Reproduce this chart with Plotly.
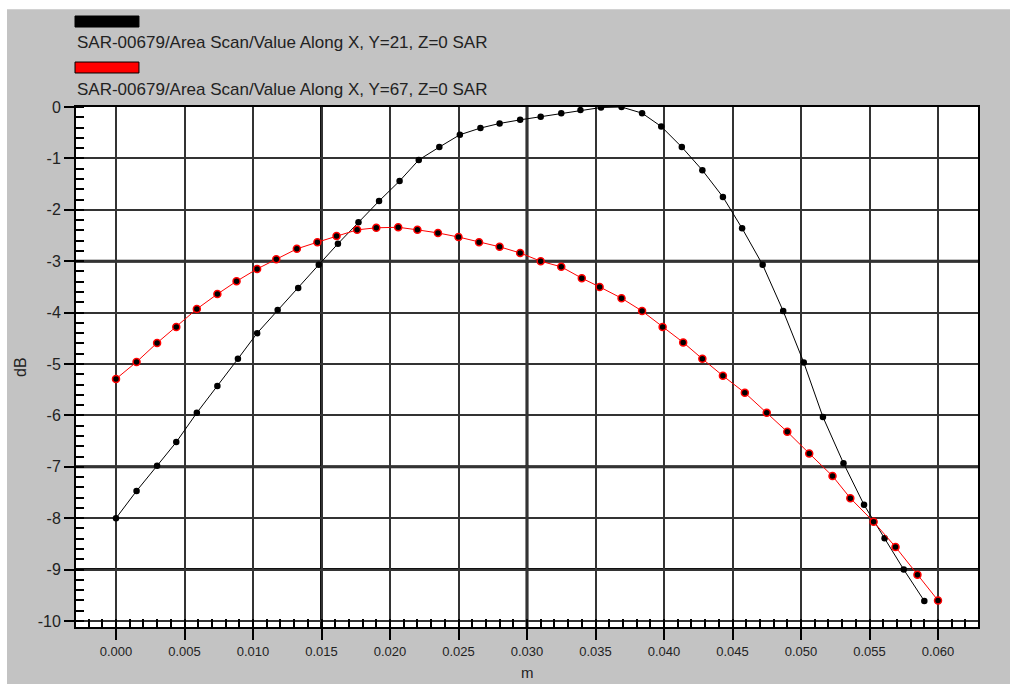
import plotly.graph_objects as go

# ---- data ----
x_black = [0.0000, 0.0015, 0.0030, 0.0044, 0.0059, 0.0074, 0.0089, 0.0103, 0.0118, 0.0133,
           0.0148, 0.0162, 0.0177, 0.0192, 0.0207, 0.0221, 0.0236, 0.0251, 0.0266, 0.0280,
           0.0295, 0.0310, 0.0325, 0.0339, 0.0354, 0.0369, 0.0384, 0.0398, 0.0413, 0.0428,
           0.0443, 0.0457, 0.0472, 0.0487, 0.0502, 0.0516, 0.0531, 0.0546, 0.0561, 0.0575,
           0.0590]
y_black = [-8.00, -7.47, -6.98, -6.52, -5.95, -5.43, -4.90, -4.40, -3.95, -3.52,
           -3.07, -2.66, -2.24, -1.83, -1.44, -1.03, -0.78, -0.54, -0.41, -0.32,
           -0.25, -0.19, -0.12, -0.06, -0.01, 0.00, -0.12, -0.38, -0.78, -1.23,
           -1.75, -2.36, -3.07, -3.97, -4.97, -6.03, -6.93, -7.74, -8.39, -9.00,
           -9.61]
x_red = [0.0000, 0.0015, 0.0030, 0.0044, 0.0059, 0.0074, 0.0088, 0.0103, 0.0117, 0.0132,
         0.0147, 0.0161, 0.0176, 0.0190, 0.0206, 0.0220, 0.0235, 0.0250, 0.0265, 0.0280,
         0.0295, 0.0310, 0.0325, 0.0340, 0.0353, 0.0369, 0.0384, 0.0399, 0.0414, 0.0428,
         0.0443, 0.0459, 0.0475, 0.0490, 0.0506, 0.0523, 0.0536, 0.0553, 0.0569, 0.0585,
         0.0600]
y_red = [-5.29, -4.96, -4.59, -4.28, -3.93, -3.64, -3.39, -3.15, -2.96, -2.76,
         -2.63, -2.51, -2.39, -2.35, -2.34, -2.39, -2.45, -2.53, -2.63, -2.72,
         -2.84, -3.00, -3.11, -3.33, -3.50, -3.72, -3.97, -4.28, -4.58, -4.90,
         -5.23, -5.56, -5.95, -6.32, -6.74, -7.18, -7.61, -8.07, -8.56, -9.10,
         -9.60]

series_names = ["SAR-00679/Area Scan/Value Along X, Y=21, Z=0 SAR",
                "SAR-00679/Area Scan/Value Along X, Y=67, Z=0 SAR"]
x_title = "m"
y_title = "dB"

x_tick_vals = [0.000, 0.005, 0.010, 0.015, 0.020, 0.025, 0.030, 0.035, 0.040, 0.045, 0.050, 0.055, 0.060]
x_tick_text = ["0.000", "0.005", "0.010", "0.015", "0.020", "0.025", "0.030",
               "0.035", "0.040", "0.045", "0.050", "0.055", "0.060"]
y_tick_vals = [0, -1, -2, -3, -4, -5, -6, -7, -8, -9, -10]
y_tick_text = ["0", "-1", "-2", "-3", "-4", "-5", "-6", "-7", "-8", "-9", "-10"]
thick_x = [0.015, 0.030]
thick_y = [-3, -7, -9]

FONT = "Liberation Sans, Arial, sans-serif"
GRAY = "#c3c3c3"

fig = go.Figure()
fig.add_trace(go.Scatter(x=x_black, y=y_black, mode="lines+markers", name=series_names[0],
                         line=dict(color="black", width=1),
                         marker=dict(color="black", size=6.5, line=dict(color="black", width=0))))
fig.add_trace(go.Scatter(x=x_red, y=y_red, mode="lines+markers", name=series_names[1],
                         line=dict(color="#ff0000", width=1),
                         marker=dict(color="black", size=7, line=dict(color="#ff0000", width=1.5))))

shapes = []
for xv in thick_x:
    shapes.append(dict(type="line", xref="x", yref="paper", x0=xv, x1=xv, y0=0, y1=1,
                       line=dict(color="#111111", width=3), layer="below"))
for yv in thick_y:
    shapes.append(dict(type="line", xref="paper", yref="y", x0=0, x1=1, y0=yv, y1=yv,
                       line=dict(color="#111111", width=3), layer="below"))

# white strips at top / left of the gray panel
shapes.append(dict(type="rect", xref="paper", yref="paper", x0=-0.09, x1=1.05, y0=1.188, y1=1.21,
                   fillcolor="white", line=dict(width=0), layer="below"))
shapes.append(dict(type="rect", xref="paper", yref="paper", x0=-0.09, x1=-0.0765, y0=-0.12, y1=1.21,
                   fillcolor="white", line=dict(width=0), layer="below"))

# legend swatches
shapes.append(dict(type="rect", xref="paper", yref="paper", x0=-0.0011, x1=0.0698, y0=1.1538, y1=1.175,
                   fillcolor="black", line=dict(color="black", width=1)))
shapes.append(dict(type="rect", xref="paper", yref="paper", x0=-0.0011, x1=0.0698, y0=1.0654, y1=1.0865,
                   fillcolor="#ff0000", line=dict(color="black", width=1)))

annotations = [
    dict(text=series_names[0], xref="paper", yref="paper", x=-0.0011, y=1.125,
         xanchor="left", yanchor="middle", showarrow=False, font=dict(family=FONT, size=17, color="#222")),
    dict(text=series_names[1], xref="paper", yref="paper", x=-0.0011, y=1.0345,
         xanchor="left", yanchor="middle", showarrow=False, font=dict(family=FONT, size=17, color="#222")),
    dict(text=x_title, xref="paper", yref="paper", x=0.5, y=-0.088,
         xanchor="center", yanchor="middle", showarrow=False, font=dict(family=FONT, size=15, color="#222")),
    dict(text=y_title, xref="paper", yref="paper", x=-0.0621, y=0.5, textangle=-90,
         xanchor="center", yanchor="middle", showarrow=False, font=dict(family=FONT, size=16, color="#222")),
]

fig.update_layout(
    width=1010, height=684,
    margin=dict(l=76, r=32, t=107, b=57, autoexpand=False),
    paper_bgcolor=GRAY, plot_bgcolor="white",
    showlegend=False,
    shapes=shapes, annotations=annotations,
    font=dict(family=FONT, color="#222"),
)

fig.update_xaxes(
    range=[-0.00292, 0.06292], automargin=False,
    tickvals=x_tick_vals, ticktext=x_tick_text,
    tickfont=dict(size=13, family=FONT, color="#222"),
    ticks="outside", ticklen=11, tickwidth=2, tickcolor="black",
    showgrid=True, gridcolor="#333333", gridwidth=1.6,
    showline=True, linecolor="black", linewidth=2, mirror=True,
    zeroline=False,
    minor=dict(dtick=0.001, tick0=0, ticks="inside", ticklen=8, tickwidth=1.5, tickcolor="black", showgrid=False),
)
fig.update_yaxes(
    range=[-10.117, 0], automargin=False,
    tickvals=y_tick_vals, ticktext=y_tick_text,
    tickfont=dict(size=16, family=FONT, color="#222"),
    ticks="outside", ticklen=10, tickwidth=2, tickcolor="black",
    showgrid=True, gridcolor="#333333", gridwidth=1.6,
    showline=True, linecolor="black", linewidth=2, mirror=True,
    zeroline=False,
    minor=dict(dtick=0.2, tick0=0, ticks="inside", ticklen=8, tickwidth=1.5, tickcolor="black", showgrid=False),
)

fig.write_html("out.html")
